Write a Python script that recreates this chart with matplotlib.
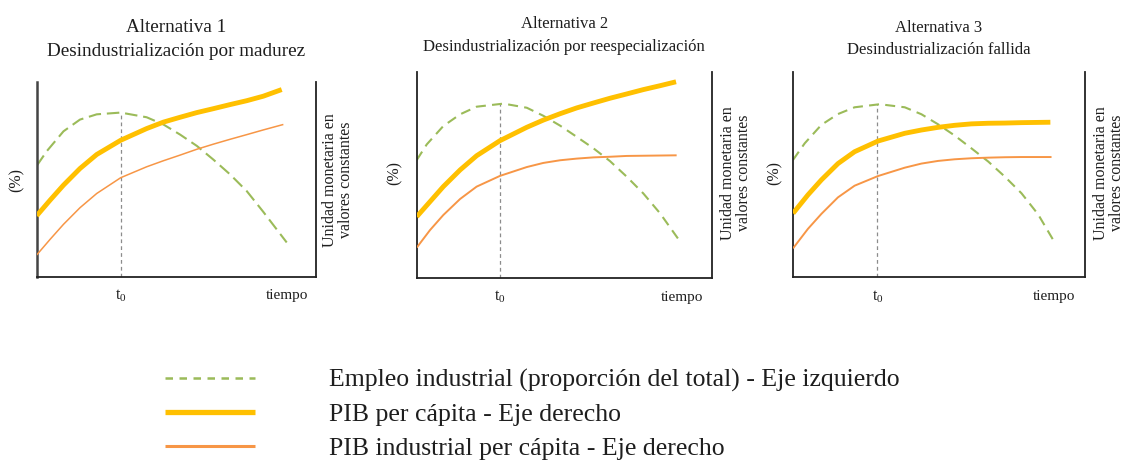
import matplotlib
matplotlib.use('Agg')
from matplotlib import pyplot as plt
from matplotlib.lines import Line2D

plt.rcParams['font.family'] = ['Liberation Serif', 'DejaVu Serif']

# tiempo en escala 0-100 (ancho del panel), valores en escala 0-100 (alto)
p1_emp_x = [0, 3.6, 9.6, 15.5, 21.5, 30.1, 39.4, 45.4, 51.4, 57.4, 63.3, 69.3, 75.3, 81.2, 89.6]
p1_emp = [57.0, 64.5, 74.7, 80.7, 83.4, 84.3, 81.9, 78.2, 73.0, 67.2, 60.2, 52.6, 44.0, 33.4, 17.7]
p1_pib_x = [0, 4.8, 9.6, 15.5, 21.5, 30.1, 39.4, 45.4, 51.4, 57.4, 63.3, 69.3, 75.3, 81.2, 87.8]
p1_pib = [31.4, 39.4, 47.1, 55.6, 62.8, 70.1, 76.1, 79.4, 81.9, 84.3, 86.3, 88.4, 90.4, 92.7, 96.1]
p1_ind_x = [0, 4.8, 9.6, 15.5, 21.5, 30.1, 39.4, 45.4, 51.4, 57.4, 63.3, 69.3, 75.3, 81.2, 88.4]
p1_ind = [11.3, 19.3, 27.0, 35.5, 42.8, 50.9, 56.5, 59.6, 62.5, 65.5, 68.1, 70.6, 73.0, 75.4, 78.2]
p1_t0 = 30.1

p2_emp_x = [0, 3.4, 9.0, 14.7, 20.3, 29.4, 37.3, 42.9, 48.6, 54.2, 59.9, 65.5, 71.2, 76.8, 82.5, 89.3]
p2_emp = [57.1, 64.7, 73.6, 79.3, 83.0, 84.5, 82.5, 78.6, 73.8, 68.4, 62.8, 56.6, 49.0, 40.9, 31.2, 17.5]
p2_pib_x = [0, 4.5, 9.0, 14.7, 20.3, 28.2, 37.3, 42.9, 48.6, 54.2, 59.9, 65.5, 71.2, 76.8, 82.5, 87.9]
p2_pib = [29.6, 36.9, 44.2, 52.3, 59.2, 66.5, 73.0, 76.5, 79.6, 82.4, 84.8, 87.1, 89.2, 91.3, 93.2, 95.1]
p2_ind_x = [0, 4.5, 9.0, 14.7, 20.3, 28.2, 37.3, 42.9, 48.6, 54.2, 59.9, 65.5, 71.2, 76.8, 88.1]
p2_ind = [14.6, 23.1, 30.4, 38.2, 44.2, 49.4, 53.7, 55.7, 57.0, 57.8, 58.4, 58.7, 59.1, 59.2, 59.4]
p2_t0 = 28.2

p3_emp_x = [0, 4.0, 9.7, 15.4, 21.1, 29.7, 38.3, 44.0, 49.7, 55.4, 61.1, 66.9, 72.6, 78.3, 84.0, 89.5]
p3_emp = [57.2, 65.3, 74.3, 79.6, 82.9, 84.4, 82.9, 79.5, 74.6, 69.1, 62.9, 56.4, 49.0, 40.9, 30.6, 17.3]
p3_pib_x = [0, 5.1, 9.7, 15.4, 21.1, 29.1, 38.3, 44.0, 49.7, 55.4, 61.1, 66.9, 72.6, 78.3, 88.2]
p3_pib = [31.1, 40.1, 47.4, 55.4, 61.2, 66.4, 70.2, 71.8, 73.1, 74.1, 74.8, 75.1, 75.2, 75.4, 75.6]
p3_ind_x = [0, 5.1, 9.7, 15.4, 21.1, 29.1, 38.3, 44.0, 49.7, 55.4, 61.1, 66.9, 72.6, 78.3, 88.6]
p3_ind = [14.0, 23.5, 30.8, 38.9, 44.6, 49.3, 53.4, 55.4, 56.7, 57.5, 58.0, 58.3, 58.5, 58.6, 58.6]
p3_t0 = 28.9

titles = ['Alternativa 1', 'Alternativa 2', 'Alternativa 3']
subtitles = ['Desindustrialización por madurez',
             'Desindustrialización por reespecialización',
             'Desindustrialización fallida']
legend_labels = ['Empleo industrial (proporción del total) - Eje izquierdo',
                 'PIB per cápita - Eje derecho',
                 'PIB industrial per cápita - Eje derecho']

GREEN = '#9bbb59'
YELLOW = '#ffc000'
ORANGE = '#f79646'
INK = '#1e1e1e'

fig = plt.figure(figsize=(11.26, 4.67), dpi=100)

# posiciones de los paneles y de sus textos (fracciones)
boxes = [[0.0326, 0.4069, 0.2478, 0.4176],
         [0.3701, 0.4054, 0.2620, 0.4411],
         [0.7043, 0.4069, 0.2591, 0.4383]]
title_y = [(1.277, 1.154), (1.232, 1.120), (1.216, 1.109)]
title_fs = [13.8, 12, 12]
pct_pos = [(-0.071, 0.497), (-0.074, 0.508), (-0.062, 0.508)]
right_x = [1.080, 1.082, 1.083]
tiempo_x = [0.897, 0.899, 0.895]
dash_emp = [(6.0, 2.8), (4.8, 3.0), (4.8, 3.0)]

panels = [
    (p1_emp_x, p1_emp, p1_pib_x, p1_pib, p1_ind_x, p1_ind, p1_t0),
    (p2_emp_x, p2_emp, p2_pib_x, p2_pib, p2_ind_x, p2_ind, p2_t0),
    (p3_emp_x, p3_emp, p3_pib_x, p3_pib, p3_ind_x, p3_ind, p3_t0),
]

for i, (ex, ey, px, py, ix, iy, t0) in enumerate(panels):
    ax = fig.add_axes(boxes[i])
    ax.set_xlim(0, 100)
    ax.set_ylim(0, 100)
    ax.set_xticks([])
    ax.set_yticks([])
    ax.spines['top'].set_visible(False)
    for s in ['left', 'right', 'bottom']:
        ax.spines[s].set_linewidth(1.3)
        ax.spines[s].set_color('#222222')
    if i == 0:
        ax.spines['left'].set_color('#444444')
        ax.spines['left'].set_linewidth(1.8)

    ax.plot([t0, t0], [0, max(ey)], color='#8c8c8c', lw=0.9,
            dashes=(3, 2.5), zorder=1)
    ax.plot(ex, ey, color=GREEN, lw=1.5, dashes=dash_emp[i], zorder=2)
    ax.plot(px, py, color=YELLOW, lw=3.5, solid_capstyle='butt', zorder=3)
    ax.plot(ix, iy, color=ORANGE, lw=1.1 if i == 0 else 1.4,
            solid_capstyle='butt', zorder=3)

    ax.text(0.5, title_y[i][0], titles[i], transform=ax.transAxes,
            ha='center', va='center', fontsize=title_fs[i], color=INK)
    ax.text(0.5, title_y[i][1], subtitles[i], transform=ax.transAxes,
            ha='center', va='center', fontsize=title_fs[i], color=INK)
    ax.text(pct_pos[i][0], pct_pos[i][1], '(%)', transform=ax.transAxes,
            ha='center', va='center', rotation=90, fontsize=11.5, color=INK)
    ax.text(right_x[i], pct_pos[i][1], 'Unidad monetaria en\nvalores constantes',
            transform=ax.transAxes, ha='center', va='center', rotation=90,
            fontsize=11.5, color=INK, linespacing=1.05)
    ax.text(t0, -0.095, '$\\mathregular{t_0}$', transform=ax.get_xaxis_transform(),
            ha='center', va='center', fontsize=11.5, color=INK)
    ax.text(tiempo_x[i], -0.095, 'tiempo', transform=ax.transAxes,
            ha='center', va='center', fontsize=11, color=INK)

handles = [Line2D([], [], color=GREEN, lw=1.8, dashes=(3.0, 2.6)),
           Line2D([], [], color=YELLOW, lw=3.8, solid_capstyle='butt'),
           Line2D([], [], color=ORANGE, lw=2.2, solid_capstyle='butt')]
fig.legend(handles, legend_labels, loc='upper left',
           bbox_to_anchor=(0.1465, 1 - 369 / 467), frameon=False,
           fontsize=18.5, handlelength=3.5, handletextpad=2.9,
           labelspacing=0.43, borderpad=0, borderaxespad=0,
           labelcolor=INK)

fig.savefig('out.png', dpi=100)
